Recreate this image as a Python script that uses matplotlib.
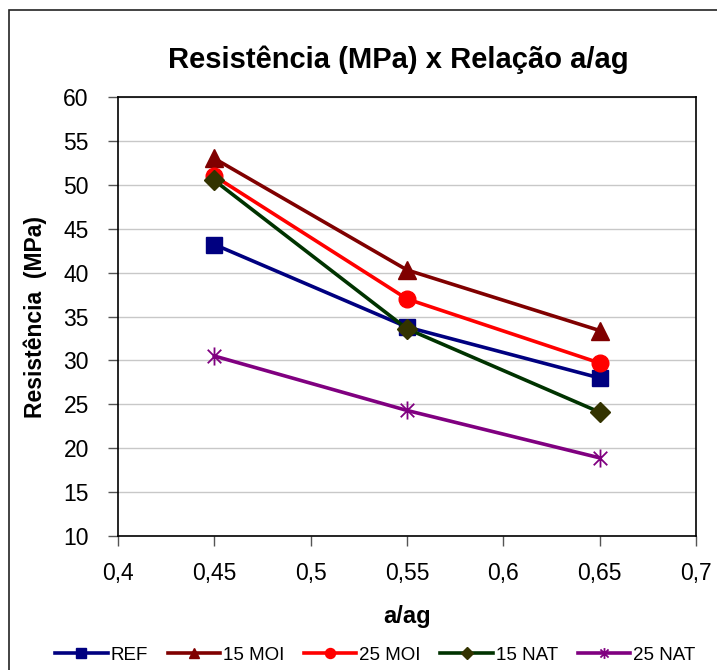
import matplotlib.pyplot as plt
from matplotlib.path import Path
from matplotlib.patches import Rectangle
from matplotlib.ticker import FuncFormatter

plt.rcParams['font.family'] = ['Liberation Sans', 'DejaVu Sans']

relacao = [0.45, 0.55, 0.65]
ref = [43.2, 33.8, 28.0]
moi15 = [53.0, 40.3, 33.4]
moi25 = [51.0, 37.0, 29.7]
nat15 = [50.5, 33.6, 24.1]
nat25 = [30.5, 24.3, 18.9]

x_ticks = [0.4, 0.45, 0.5, 0.55, 0.6, 0.65, 0.7]
y_ticks = list(range(10, 61, 5))

# asterisk marker: vertical stroke plus an X
asterisco = Path([(0, -1), (0, 1), (-0.75, -0.75), (0.75, 0.75), (-0.75, 0.75), (0.75, -0.75)],
                 [Path.MOVETO, Path.LINETO, Path.MOVETO, Path.LINETO, Path.MOVETO, Path.LINETO])

fig = plt.figure(figsize=(7.17, 6.70), dpi=100)
fig.patches.append(Rectangle((9 / 717, -0.1), 1.2, 1 - 10 / 670 + 0.1, transform=fig.transFigure,
                             fill=False, edgecolor='#222222', linewidth=1.2))

ax = fig.add_axes([118 / 717, 134 / 670, 578 / 717, 439 / 670])

lw = 2.6
ax.plot(relacao, ref, color='#000080', lw=lw, marker='s', ms=11, label='REF', zorder=3)
ax.plot(relacao, moi15, color='#800000', lw=lw, marker='^', ms=13, label='15 MOI', zorder=3)
ax.plot(relacao, moi25, color='#FF0000', lw=lw, marker='o', ms=12, label='25 MOI', zorder=3)
ax.plot(relacao, nat15, color='#003300', lw=lw, marker='D', ms=10, mfc='#333300', mec='#333300',
        label='15 NAT', zorder=3)
ax.plot(relacao, nat25, color='#800080', lw=lw, marker=asterisco, ms=13, mew=1.3,
        label='25 NAT', zorder=3)

ax.set_xlim(0.4, 0.7)
ax.set_ylim(10, 60)
ax.set_xticks(x_ticks)
ax.set_yticks(y_ticks)
fmt = FuncFormatter(lambda v, p: ('%g' % round(v, 2)).replace('.', ','))
ax.xaxis.set_major_formatter(fmt)
ax.tick_params(axis='both', labelsize=16.5, direction='out', length=7, width=1, color='#555555')
ax.tick_params(axis='x', pad=12)
ax.tick_params(axis='y', pad=14)
ax.grid(axis='y', color='#c8c8c8', lw=1)
ax.set_axisbelow(True)
for s in ax.spines.values():
    s.set_linewidth(1.2)

fig.text(398 / 717, 1 - 60 / 670, 'Resistência (MPa) x Relação a/ag', fontsize=21,
         fontweight='bold', ha='center', va='center')
ax.set_xlabel('a/ag', fontsize=17, fontweight='bold', labelpad=14)
ax.set_ylabel('Resistência  (MPa)', fontsize=16.5, fontweight='bold', labelpad=12)

ax.legend(loc='upper center', bbox_to_anchor=(0.445, -0.235), ncol=5, frameon=False,
          fontsize=13.5, handlelength=2.8, handletextpad=0.15, columnspacing=1.05,
          markerscale=0.6, borderaxespad=0)

fig.savefig('out.png', dpi=100)
